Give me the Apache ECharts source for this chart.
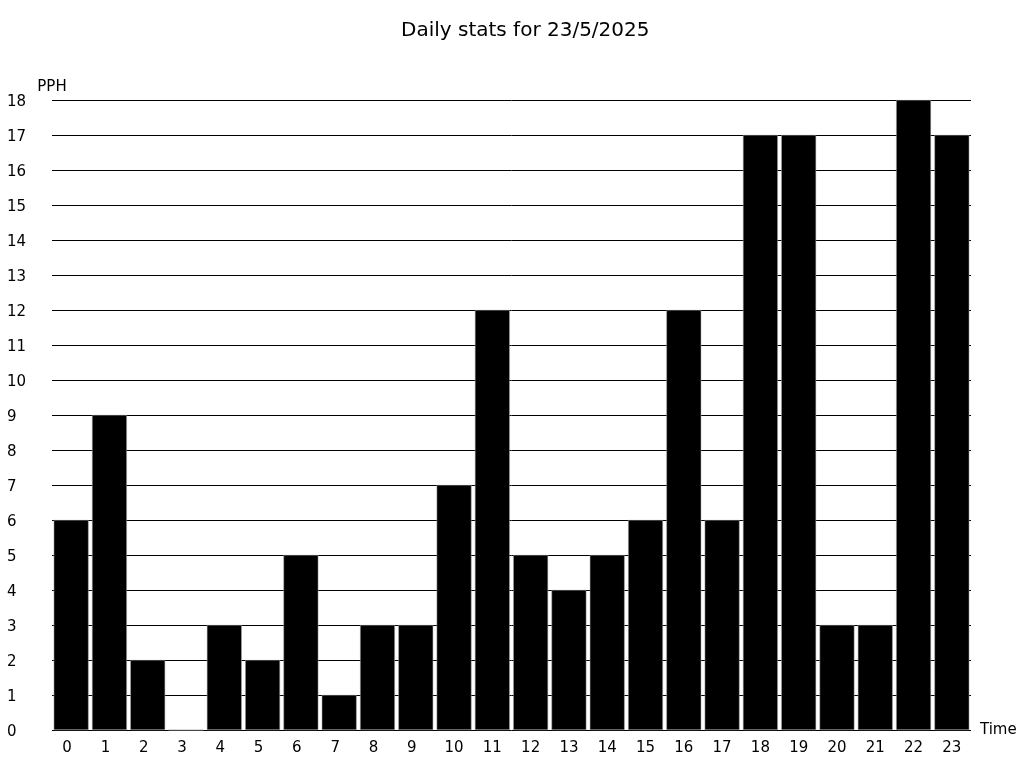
<!DOCTYPE html>
<html><head><meta charset="utf-8">
<script src="https://cdn.jsdelivr.net/npm/echarts@6/dist/echarts.min.js"></script>
<style>html,body{margin:0;padding:0;background:#fff}#c{width:1024px;height:768px}</style>
</head><body><div id="c"></div>
<script>
const hours = ['0','1','2','3','4','5','6','7','8','9','10','11','12','13','14','15','16','17','18','19','20','21','22','23'];
const pph = [6,9,2,0,3,2,5,1,3,3,7,12,5,4,5,6,12,6,17,17,3,3,18,17];
const titleText = 'Daily stats for 23/5/2025';
const font = 'DejaVu Sans';
const chart = echarts.init(document.getElementById('c'));
chart.setOption({
  animation:false,
  backgroundColor:'#fff',
  textStyle:{fontFamily:font},
  title:{text:titleText,left:396,top:16,textStyle:{fontFamily:font,fontSize:20,fontWeight:'normal',color:'#000'}},
  grid:{left:52,right:53,top:100,bottom:38},
  xAxis:{type:'category',data:hours,name:'Time',nameLocation:'end',nameGap:9,
    nameTextStyle:{fontFamily:font,fontSize:15,color:'#000',padding:[3,0,0,0]},
    axisLine:{show:false},axisTick:{show:false},
    axisLabel:{interval:0,color:'#000',fontFamily:font,fontSize:15,margin:11,
      formatter:v=>v.length===1?'{s|'+v+'}':v,
      rich:{s:{fontFamily:font,fontSize:15,color:'#000',padding:[0,8,0,0]}}}},
  yAxis:{type:'value',min:0,max:18,interval:1,name:'PPH',nameLocation:'end',nameGap:5,
    nameTextStyle:{fontFamily:font,fontSize:15,color:'#000',align:'center'},
    axisLine:{show:false},axisTick:{show:false},
    axisLabel:{color:'#000',fontFamily:font,fontSize:15,align:'left',margin:45,
      formatter:v=>'{a|'+v+'}',
      rich:{a:{fontFamily:font,fontSize:15,color:'#000',padding:[4,0,0,0]}}},
    splitLine:{lineStyle:{color:'#000',width:1}}},
  series:[{type:'bar',data:pph,barCategoryGap:'9%',itemStyle:{color:'#000',borderColor:'#aaa',borderWidth:0.5}}]
});
</script></body></html>
